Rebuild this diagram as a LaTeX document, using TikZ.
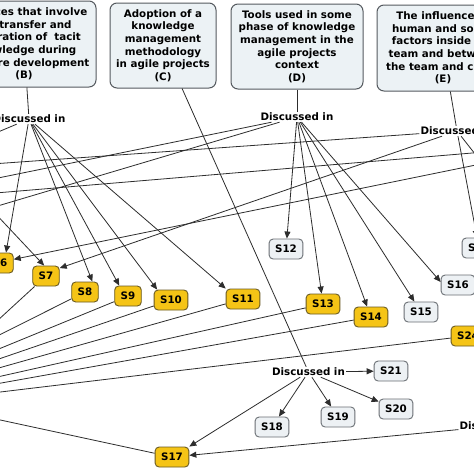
\documentclass[tikz,border=0pt]{standalone}
\usepackage{fontspec}
\setmainfont{DejaVu Sans}
\usetikzlibrary{arrows.meta}
\definecolor{boxfill}{RGB}{236,242,245}
\definecolor{boxdraw}{RGB}{85,90,95}
\definecolor{yfill}{RGB}{245,196,22}
\definecolor{ydraw}{RGB}{105,90,35}
\definecolor{gfill}{RGB}{237,241,244}
\definecolor{gdraw}{RGB}{105,110,115}
\definecolor{edgecol}{RGB}{45,45,45}
\begin{document}
\begin{tikzpicture}[x=1pt,y=-1pt,
  topic/.style={draw=boxdraw,fill=boxfill,rounded corners=7pt,line width=1pt,align=center,inner sep=0pt,font=\bfseries\fontsize{10.3}{12.6}\selectfont},
  link/.style={font=\bfseries\fontsize{10.3}{12}\selectfont,inner sep=1pt},
  sy/.style={draw=ydraw,fill=yfill,rounded corners=4pt,line width=0.9pt,font=\bfseries\fontsize{10.3}{12}\selectfont,inner xsep=6pt,inner ysep=0pt,minimum height=20pt,text height=7.5pt,text depth=0pt},
  sg/.style={sy,draw=gdraw,fill=gfill},
  con/.style={draw=edgecol,line width=0.8pt},
  arr/.style={con,-{Triangle[length=7pt,width=6pt]}},
]
\useasboundingbox (0,0) rectangle (474,474);
\fill[white] (0,0) rectangle (474,474);
\clip (0,0) rectangle (474,474);

% topic boxes
\node[topic,minimum width=144pt,minimum height=86pt] (B) at (24,44) {Practices that involve\\the transfer and\\integration of \ tacit\\knowledge during\\software development\\(B)};
\node[topic,minimum width=106pt,minimum height=85pt] (C) at (163,45.5) {Adoption of a\\knowledge\\management\\methodology\\in agile projects\\(C)};
\node[topic,minimum width=132pt,minimum height=85pt] (D) at (297,46.5) {Tools used in some\\phase of knowledge\\management in the\\agile projects\\context\\(D)};
\node[topic,minimum width=132pt,minimum height=86pt] (E) at (443,48) {The influence of\\human and social\\factors inside the\\team and between\\the team and client\\(E)};

% linking phrases
\node[link] (DB) at (29,119) {Discussed in};
\node[link] (DD) at (297,117) {Discussed in};
\node[link] (DE) at (457,131) {Discussed in};
\node[link] (DC) at (308.5,372) {Discussed in};
\node[link] (DR) at (496,426) {Discussed in};

% study nodes
\node[sy] (S6) at (0,263) {S6};
\node[sy] (S7) at (46,276) {S7};
\node[sy] (S8) at (85,292) {S8};
\node[sy] (S9) at (128,296) {S9};
\node[sy] (S10) at (171,300) {S10};
\node[sy] (S11) at (243,299) {S11};
\node[sg] (S12) at (286,249) {S12};
\node[sy] (S13) at (323,304) {S13};
\node[sy] (S14) at (371,317) {S14};
\node[sg] (S15) at (421,312) {S15};
\node[sg] (S16) at (458,285) {S16};
\node[sg] (S22) at (479,248) {S22};
\node[sy] (S24) at (468,336) {S24};
\node[sy] (S17) at (172,457) {S17};
\node[sg] (S18) at (272,427) {S18};
\node[sg] (S19) at (338,417) {S19};
\node[sg] (S20) at (396,409) {S20};
\node[sg] (S21) at (391,371) {S21};

% off-picture ends
\coordinate (oB) at (-40,148);
\coordinate (oL1) at (-100,198);
\coordinate (oL2) at (-100,235);
\coordinate (oL3) at (-100,170.5);
\coordinate (oE) at (497,182);
\coordinate (r4) at (520,149);
\coordinate (l4) at (-100,201);
\coordinate (r6) at (520,156);
\coordinate (l7) at (-40,176);
\coordinate (T1) at (-150,410);
\coordinate (T2) at (-40,355);
\coordinate (T3) at (-60,407);

% topic to linking phrase
\draw[con] (B) -- (DB);
\draw[con] (C) -- (DC);
\draw[con] (D) -- (DD);
\draw[con] (E) -- (DE);

% B
\draw[arr] (DB) -- (S6.60);
\draw[arr] (DB) -- (S8.55);
\draw[arr] (DB) -- (S9.130);
\draw[arr] (DB) -- (S10.143);
\draw[arr] (DB) -- (S11.north west);
\draw[con] (DB) -- (oB);

% D
\draw[arr] (DD) -- (S12);
\draw[arr] (DD) -- (S13);
\draw[arr] (DD) -- (S14);
\draw[arr] (DD) -- (S15);
\draw[arr] (DD) -- (S16.170);
\draw[con] (DD) -- (oL1);
\draw[con] (DD) -- (oL2);

% E
\draw[arr] (DE) -- (S7.30);
\draw[arr] (DE) -- (S22);
\draw[con] (DE) -- (oL3);
\draw[con] (DE) -- (oE);

% lines crossing the picture
\draw[con] (r4) -- (l4);
\draw[arr] (r6) -- (S6.15);
\draw[arr] (l7) -- (S7.100);

% C
\draw[arr] (DC) -- (S21);
\draw[arr] (DC) -- (S18);
\draw[arr] (DC) -- (S19);
\draw[arr] (DC) -- (S20);
\draw[arr] (DC) -- (S17.north east);
\draw[arr] (DR) -- (S17);

% study nodes to the left
\draw[con] (S7) -- (T2);
\draw[con] (S8) -- (T1);
\draw[con] (S9) -- (T1);
\draw[con] (S10) -- (T1);
\draw[con] (S11) -- (T1);
\draw[con] (S13) -- (T1);
\draw[con] (S14) -- (T1);
\draw[con] (S24) -- (T1);
\draw[con] (S17) -- (T3);
\end{tikzpicture}
\end{document}
